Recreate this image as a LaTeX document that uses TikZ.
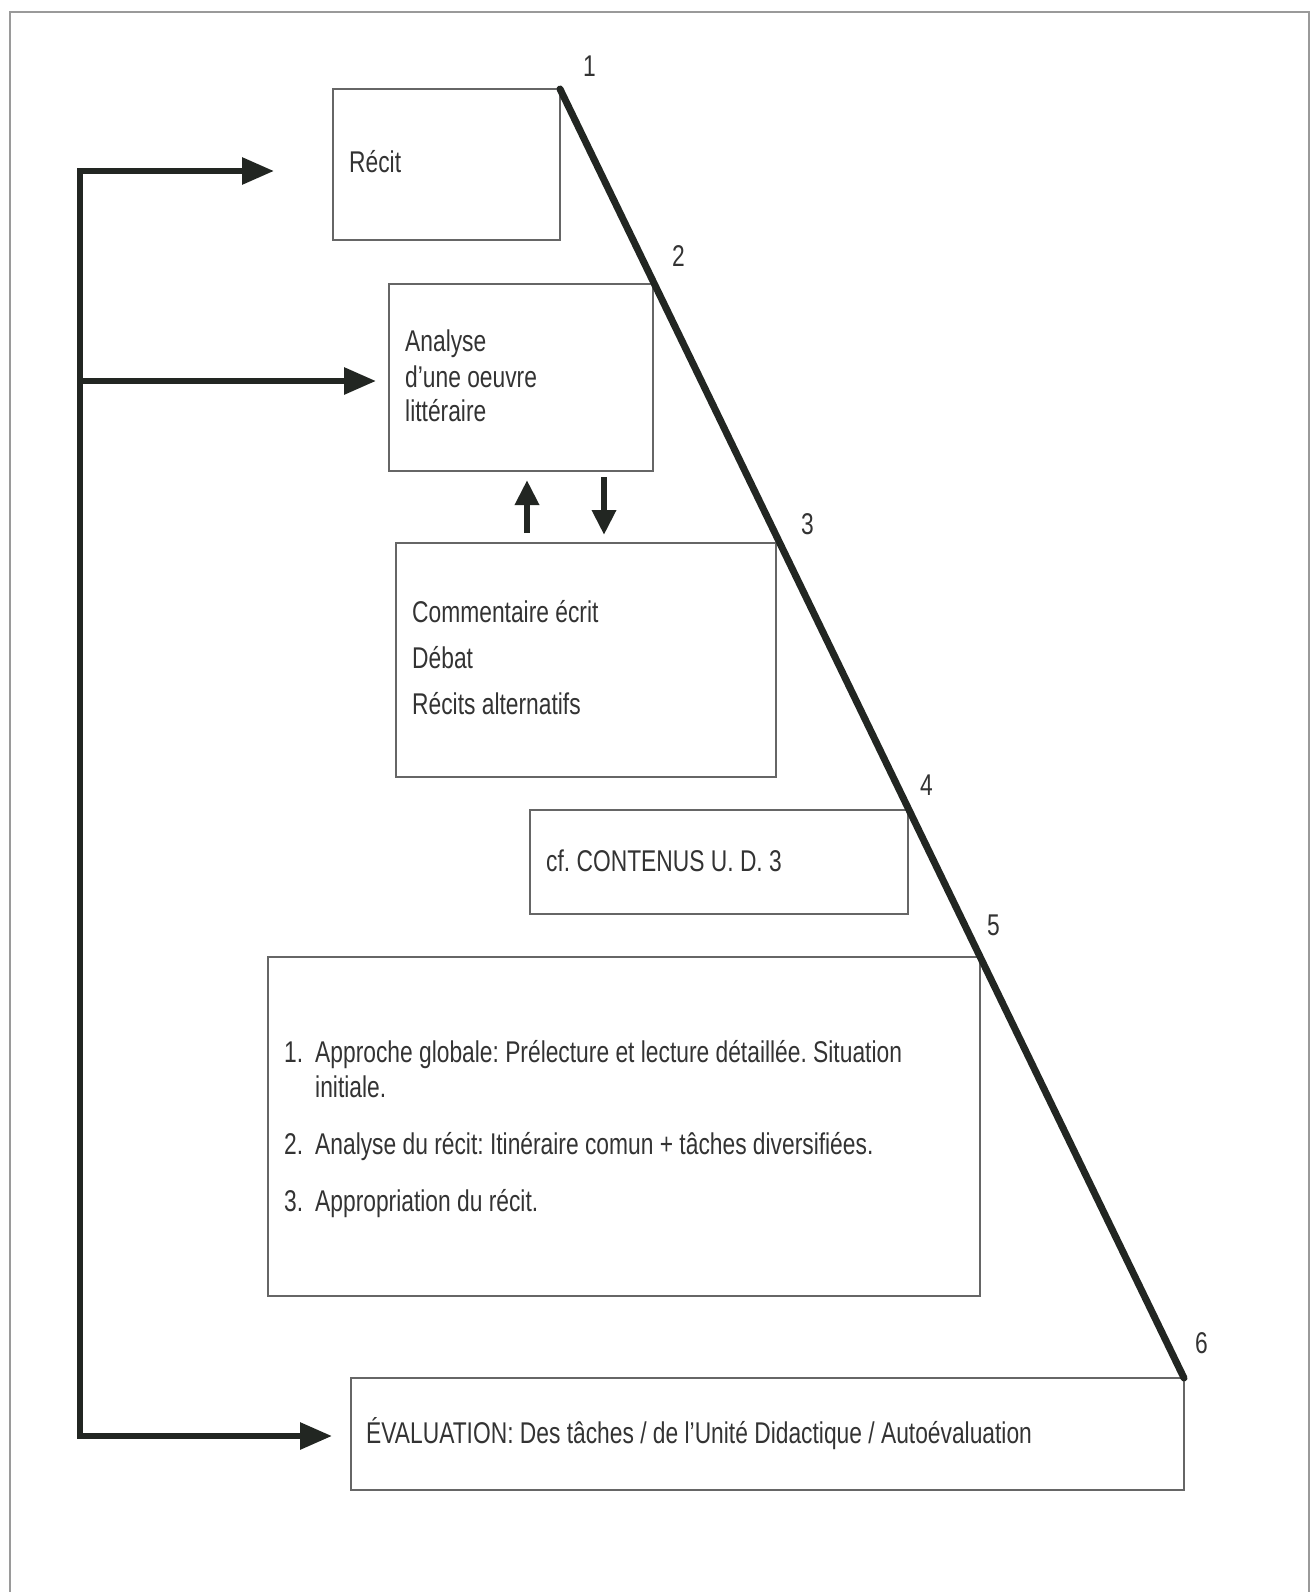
\documentclass[tikz,border=0pt]{standalone}
\usepackage{fontspec}
\setmainfont[FakeStretch=0.76]{Liberation Sans}
\usetikzlibrary{arrows.meta}
\definecolor{ink}{HTML}{222622}
\definecolor{txt}{HTML}{333333}
\definecolor{boxc}{HTML}{666666}
\definecolor{framec}{HTML}{9A9A9A}
\tikzset{
  boxnode/.style={draw=boxc, line width=1.5pt, anchor=north west, inner sep=0pt, outer sep=0pt},
  txtnode/.style={font=\fontsize{30}{36}\selectfont\frenchspacing, text=txt, inner sep=0pt, anchor=west, text height=21.5pt, text depth=0pt},
  thickline/.style={draw=ink, line width=6pt},
  bigarrow/.style={thickline, -{Triangle[length=32pt,width=26pt]}},
  smallarrow/.style={thickline, line width=6.5pt, -{Triangle[length=25pt,width=23pt]}},
}
\begin{document}
\begin{tikzpicture}[x=1pt,y=-1pt]
\useasboundingbox (0,0) rectangle (1311,1592);
% frame (open at the bottom)
\draw[framec, line width=1.5pt] (10,1592) -- (10,12) -- (1309,12) -- (1309,1592);

% boxes
\node[boxnode, minimum width=227pt, minimum height=151pt] (recit) at (333,89) {};
\node[boxnode, minimum width=264pt, minimum height=187pt] (analyse) at (389,284) {};
\node[boxnode, minimum width=380pt, minimum height=234pt] (comment) at (396,543) {};
\node[boxnode, minimum width=378pt, minimum height=104pt] (cf) at (530,810) {};
\node[boxnode, minimum width=712pt, minimum height=339pt] (big) at (268,957) {};
\node[boxnode, minimum width=833pt, minimum height=112pt] (eval) at (351,1378) {};

% texts
\node[txtnode] (trecit) at (349,162) {Récit};
\node[txtnode] (ta1) at (405,341) {Analyse};
\node[txtnode] (ta2) at (405,377) {d’une oeuvre};
\node[txtnode] (ta3) at (405,411) {littéraire};
\node[txtnode] (tc1) at (412,612) {Commentaire écrit};
\node[txtnode] (tc2) at (412,658) {Débat};
\node[txtnode] (tc3) at (412,704) {Récits alternatifs};
\node[txtnode] (tcf) at (546,861) {cf. CONTENUS U. D. 3};
\node[txtnode] (n1) at (284,1052) {1.};
\node[txtnode] (t1a) at (315,1052) {Approche globale: Prélecture et lecture détaillée. Situation};
\node[txtnode] (t1b) at (315,1087) {initiale.};
\node[txtnode] (n2) at (284,1144) {2.};
\node[txtnode] (t2) at (315,1144) {Analyse du récit: Itinéraire comun + tâches diversifiées.};
\node[txtnode] (n3) at (284,1201) {3.};
\node[txtnode] (t3) at (315,1201) {Appropriation du récit.};
\node[txtnode] (teval) at (366,1433) {ÉVALUATION: Des tâches / de l’Unité Didactique / Autoévaluation};

% step numbers
\node[txtnode] (s1) at (583,66) {1};
\node[txtnode] (s2) at (672,256) {2};
\node[txtnode] (s3) at (801,524) {3};
\node[txtnode] (s4) at (920,785) {4};
\node[txtnode] (s5) at (987,925) {5};
\node[txtnode] (s6) at (1195,1343) {6};

% diagonal
\draw[thickline, line width=7pt, line cap=round] (recit.north east) -- (eval.north east);

% bracket with arrows
\coordinate (b1) at (80,171);
\coordinate (b2) at (80,381);
\coordinate (b3) at (80,1436);
\coordinate (a1) at (274,171);
\coordinate (a2) at (376,381);
\coordinate (a3) at (332,1436);
\draw[thickline, {Triangle[length=32pt,width=26pt]}-{Triangle[length=32pt,width=26pt]}] (a1) -- (b1) -- (b3) -- (a3);
\draw[bigarrow] (b2) -- (a2);

% up / down arrows
\coordinate (u0) at (527,533);
\coordinate (u1) at (527,480);
\coordinate (d0) at (604,477);
\coordinate (d1) at (604,535);
\draw[smallarrow] (u0) -- (u1);
\draw[smallarrow] (d0) -- (d1);
\end{tikzpicture}
\end{document}
